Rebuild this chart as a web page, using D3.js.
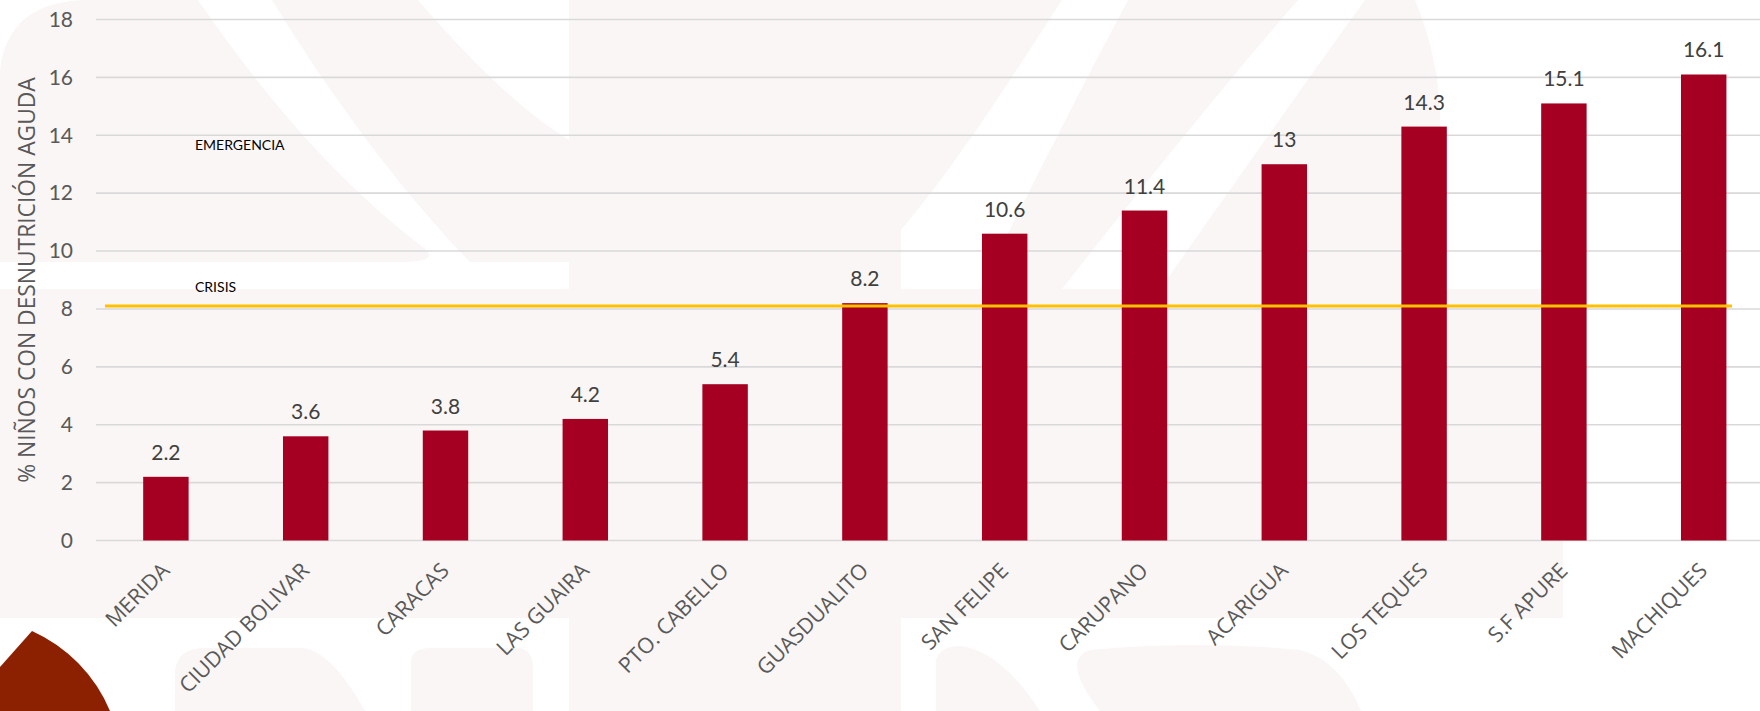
<!DOCTYPE html>
<html>
<head>
<meta charset="utf-8">
<script src="https://cdn.jsdelivr.net/npm/d3@7"></script>
<style>
  html, body { margin: 0; padding: 0; background: #ffffff; }
  svg { display: block; }
</style>
</head>
<body>
<svg id="chart" width="1760" height="711"></svg>
<script>
// ---- data ----
const categories = ["MERIDA", "CIUDAD BOLIVAR", "CARACAS", "LAS GUAIRA", "PTO. CABELLO", "GUASDUALITO",
                    "SAN FELIPE", "CARUPANO", "ACARIGUA", "LOS TEQUES", "S.F APURE", "MACHIQUES"];
const values = [2.2, 3.6, 3.8, 4.2, 5.4, 8.2, 10.6, 11.4, 13, 14.3, 15.1, 16.1];
const yTicks = [0, 2, 4, 6, 8, 10, 12, 14, 16, 18];
const crisisLevel = [8.1];
const thresholdLabels = ["EMERGENCIA", "CRISIS"];
const thresholdLabelValues = [13.5, 8.6];
const yTitle = "% NIÑOS CON DESNUTRICIÓN AGUDA";

// ---- layout ----
const W = 1760, H = 711;
const svg = d3.select("#chart");
const pink = "#FAF6F5";
const numFont = "Lato, 'Open Sans', sans-serif";
const txtFont = "'Open Sans', sans-serif";

// background watermark (approximate)
const bg = svg.append("g");
bg.append("rect").attr("x", 0).attr("y", 0).attr("width", W).attr("height", H).attr("fill", "#ffffff");
bg.append("rect").attr("x", 0).attr("y", 289).attr("width", 1563).attr("height", 329).attr("fill", pink);
bg.append("rect").attr("x", 569).attr("y", 0).attr("width", 332).attr("height", H).attr("fill", pink);
bg.append("path").attr("fill", pink)
  .attr("d", "M0,70 Q8,0 90,0 L198,0 C260,90 330,175 420,245 Q445,262 400,262 L0,262 Z");
bg.append("path").attr("fill", pink)
  .attr("d", "M272,0 L418,0 C470,60 520,110 569,140 L569,262 L470,262 C400,190 330,95 272,0 Z");
bg.append("path").attr("fill", pink)
  .attr("d", "M901,0 L1062,0 C1010,80 960,160 901,230 Z");
bg.append("path").attr("fill", pink)
  .attr("d", "M1128,0 L1298,0 C1220,90 1140,190 1062,289 L980,289 C1030,190 1080,90 1128,0 Z");
bg.append("path").attr("fill", pink)
  .attr("d", "M1365,0 L1415,0 Q1470,130 1405,289 L1160,289 C1230,190 1300,90 1365,0 Z");
bg.append("path").attr("fill", pink)
  .attr("d", "M175,711 L175,670 Q178,648 205,648 L300,648 Q330,648 365,711 Z");
bg.append("path").attr("fill", pink)
  .attr("d", "M411,711 L411,660 Q413,648 430,648 L520,648 Q533,650 533,670 L533,711 Z");
bg.append("path").attr("fill", pink)
  .attr("d", "M936,711 L936,660 Q940,646 960,646 Q1000,650 1040,711 Z");
bg.append("path").attr("fill", pink)
  .attr("d", "M1100,711 Q1060,660 1090,650 Q1200,640 1300,650 Q1340,660 1361,711 Z");

// red corner shape
svg.append("path").attr("fill", "#8B2101")
  .attr("d", "M0,667 L32,631 A152,152 0 0,1 110,711 L0,711 Z");

// ---- scales ----
const x = d3.scaleBand().domain(categories).range([96, 1773.6]).paddingInner(0.675).paddingOuter(0.3375);
const y = d3.scaleLinear().domain([0, 18]).range([540.5, 19.5]);

// gridlines
svg.append("g").selectAll("line").data(yTicks).join("line")
  .attr("x1", 96).attr("x2", W)
  .attr("y1", d => y(d)).attr("y2", d => y(d))
  .attr("stroke", "#D9D9D9").attr("stroke-width", 1.6);

// y axis tick labels
const yAxis = d3.axisLeft(y).tickValues(yTicks).tickSize(0).tickPadding(0).tickFormat(d3.format("d"));
const gy = svg.append("g").attr("transform", "translate(73,0)").call(yAxis);
gy.select(".domain").remove();
gy.selectAll("text")
  .attr("font-family", numFont).attr("font-size", 21).attr("fill", "#595959");

// y title
svg.append("text")
  .attr("transform", `translate(35,${(y(0) + y(18)) / 2}) rotate(-90)`)
  .attr("text-anchor", "middle")
  .attr("font-family", txtFont).attr("font-size", 22.8).attr("fill", "#595959")
  .text(yTitle);

// bars
svg.append("g").selectAll("rect").data(values).join("rect")
  .attr("x", (d, i) => x(categories[i]))
  .attr("width", x.bandwidth())
  .attr("y", d => y(d))
  .attr("height", d => y(0) - y(d))
  .attr("fill", "#A50021");

// value labels
svg.append("g").selectAll("text").data(values).join("text")
  .attr("x", (d, i) => x(categories[i]) + x.bandwidth() / 2)
  .attr("y", d => y(d) - 17)
  .attr("text-anchor", "middle")
  .attr("font-family", numFont).attr("font-size", 21).attr("fill", "#404040")
  .text(d => d3.format("~g")(d));

// crisis line
svg.append("g").selectAll("line").data(crisisLevel).join("line")
  .attr("x1", 105).attr("x2", 1732)
  .attr("y1", d => y(d)).attr("y2", d => y(d))
  .attr("stroke", "#FFC000").attr("stroke-width", 3);

// threshold labels
svg.append("g").selectAll("text").data(thresholdLabels).join("text")
  .attr("x", 195)
  .attr("y", (d, i) => y(thresholdLabelValues[i]))
  .attr("font-family", numFont).attr("font-size", 14).attr("fill", "#000000")
  .text(d => d);

// x labels
const xAxis = d3.axisBottom(x).tickSize(0).tickPadding(0);
const gx = svg.append("g").attr("transform", "translate(0,561)").call(xAxis);
gx.select(".domain").remove();
gx.selectAll("text")
  .attr("font-family", txtFont).attr("font-size", 21.5).attr("fill", "#595959")
  .attr("text-anchor", "end")
  .attr("x", 0).attr("y", 0).attr("dy", "0.72em")
  .attr("transform", "translate(-6,0) rotate(-45)");
</script>
</body>
</html>
